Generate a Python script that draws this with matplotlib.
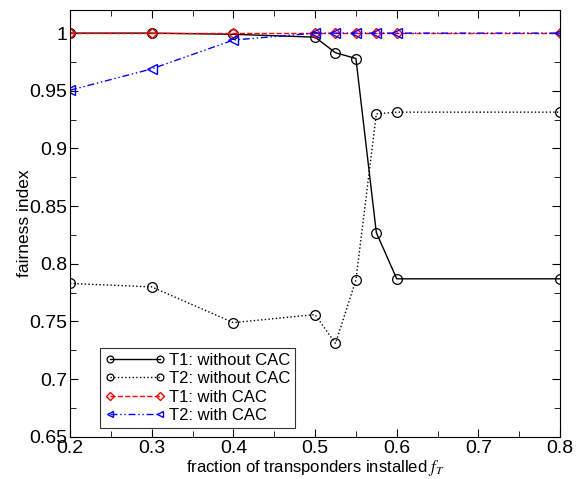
import matplotlib
matplotlib.use("Agg")
import matplotlib.pyplot as plt
from matplotlib.ticker import MultipleLocator, FormatStrFormatter

plt.rcParams['font.family'] = ['Liberation Sans', 'DejaVu Sans']
plt.rcParams['mathtext.fontset'] = 'stix'

# data
frac = [0.2, 0.3, 0.4, 0.5, 0.525, 0.55, 0.575, 0.6, 0.8]
t1_no_cac = [1.0, 1.0, 0.999, 0.9965, 0.983, 0.978, 0.827, 0.787, 0.787]
t2_no_cac = [0.783, 0.780, 0.749, 0.756, 0.731, 0.786, 0.930, 0.9315, 0.9315]
t1_cac = [1.0, 1.0, 1.0, 1.0, 1.0, 1.0, 1.0, 1.0, 1.0]
t2_cac = [0.9505, 0.969, 0.994, 1.0, 1.0, 1.0, 1.0, 1.0, 1.0]

fig = plt.figure(figsize=(5.76, 4.79), dpi=100)
ax = fig.add_axes([0.1215, 0.088, 0.851, 0.891])

ax.plot(frac, t1_no_cac, '-', color='black', lw=1.0, marker='o', ms=7,
        mfc='none', mec='black', mew=0.9, label='T1: without CAC')
ax.plot(frac, t2_no_cac, ':', color='black', lw=1.0, marker='o', ms=7,
        mfc='none', mec='black', mew=0.9, label='T2: without CAC')
ax.plot(frac, t1_cac, '--', color='red', lw=1.0, marker='D', ms=5.5,
        mfc='none', mec='red', mew=1.0, label='T1: with CAC')
ax.plot(frac, t2_cac, color='blue', lw=1.0, dashes=[5, 2, 1, 2, 1, 2],
        marker='<', ms=6.5, mfc='none', mec='blue', mew=1.0, label='T2: with CAC')

ax.set_xlim(0.2, 0.8)
ax.set_ylim(0.65, 1.02)
ax.xaxis.set_major_locator(MultipleLocator(0.1))
ax.xaxis.set_minor_locator(MultipleLocator(0.05))
ax.yaxis.set_major_locator(MultipleLocator(0.05))
ax.yaxis.set_minor_locator(MultipleLocator(0.025))
ax.xaxis.set_major_formatter(FormatStrFormatter('%g'))
ax.yaxis.set_major_formatter(FormatStrFormatter('%g'))
ax.tick_params(which='both', direction='in', top=True, right=True, labelsize=14)
ax.tick_params(which='major', length=6, pad=2)
ax.tick_params(which='minor', length=4)

ax.set_xlabel(r'fraction of transponders installed $f_T$', fontsize=12, labelpad=1)
ax.set_ylabel('fairness index', fontsize=12.5, labelpad=-2)

leg = ax.legend(loc='lower left', bbox_to_anchor=(0.061, 0.021), numpoints=2,
                handlelength=3.6, markerscale=0.7, fontsize=12, frameon=True,
                fancybox=False, edgecolor='black', borderpad=0.3,
                labelspacing=0.2, handletextpad=0.25, borderaxespad=0)
leg.get_frame().set_linewidth(0.8)

fig.savefig('out.png', dpi=100)
